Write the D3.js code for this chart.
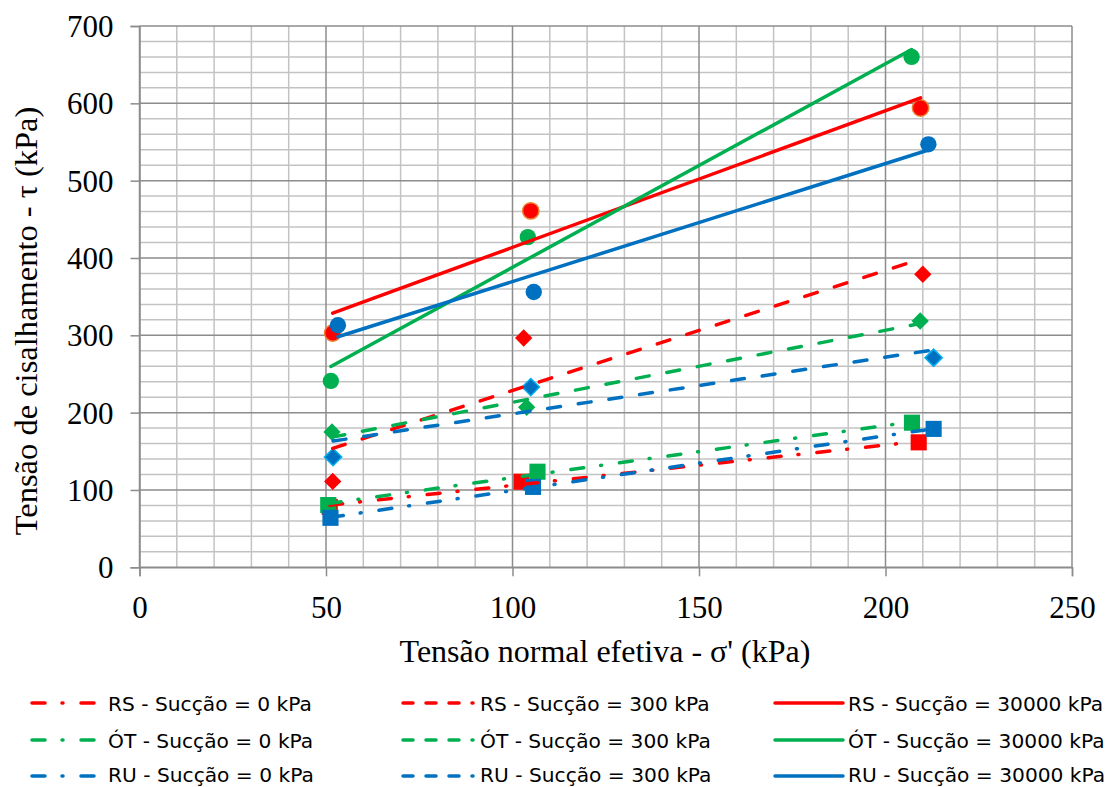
<!DOCTYPE html>
<html><head><meta charset="utf-8">
<script src="https://cdn.jsdelivr.net/npm/d3@7/dist/d3.min.js"></script>
<style>body{margin:0;background:#fff} .serif{font-family:"Liberation Serif","Times New Roman",Times,serif}</style>
</head><body>
<svg id="c" width="1115" height="787"></svg>
<script>
// ---- data ----
const soils = ["RS", "ÓT", "RU"];
const suctions = ["0", "300", "30000"];
const colors = {"RS": "#FF0000", "ÓT": "#00B050", "RU": "#0070C0"};
// x = effective normal stress (kPa), y = shear stress (kPa)
const rs0x = [51.0, 102.4, 208.9],  rs0y = [78, 110.7, 161.6];
const ot0x = [50.6, 106.7, 207.1],  ot0y = [80.5, 123.6, 187];
const ru0x = [51.2, 105.5, 212.9],  ru0y = [64, 104, 179];
const rs300x = [51.8, 103.0, 210.0], rs300y = [111, 296.5, 379];
const ot300x = [51.6, 103.8, 209.3], ot300y = [175, 207, 318.5];
const ru300x = [51.9, 104.9, 212.9], ru300y = [142.5, 233, 271];
const rs30kx = [51.8, 104.9, 209.4], rs30ky = [303, 461, 594];
const ot30kx = [51.3, 104.1, 207.0], ot30ky = [241, 427, 660];
const ru30kx = [53.2, 105.7, 211.5], ru30ky = [313, 356, 547];
const xTicks = [0, 50, 100, 150, 200, 250];
const yTicks = [0, 100, 200, 300, 400, 500, 600, 700];
const xTitle = "Tensão normal efetiva - σ' (kPa)";
const yTitle = "Tensão de cisalhamento - τ (kPa)";

const series = [
  {soil:"RS", suc:"0",     xs:rs0x,   ys:rs0y,   marker:"square"},
  {soil:"ÓT", suc:"0",     xs:ot0x,   ys:ot0y,   marker:"square"},
  {soil:"RU", suc:"0",     xs:ru0x,   ys:ru0y,   marker:"square"},
  {soil:"RS", suc:"300",   xs:rs300x, ys:rs300y, marker:"diamond"},
  {soil:"ÓT", suc:"300",   xs:ot300x, ys:ot300y, marker:"diamond"},
  {soil:"RU", suc:"300",   xs:ru300x, ys:ru300y, marker:"diamond", stroke:"#00B0F0"},
  {soil:"RS", suc:"30000", xs:rs30kx, ys:rs30ky, marker:"circle", stroke:"#ED7D31"},
  {soil:"ÓT", suc:"30000", xs:ot30kx, ys:ot30ky, marker:"circle"},
  {soil:"RU", suc:"30000", xs:ru30kx, ys:ru30ky, marker:"circle"}
];
const dashPlot = {"0":"13 17 1 18", "300":"13 18", "30000":null};
const dashLegend = {"0":"13 17 1 18", "300":"10 13", "30000":null};

// ---- layout ----
const svg = d3.select("#c");
const L = 139.5, R = 1072, T = 26, B = 567.3;
const x = d3.scaleLinear().domain([0, 250]).range([L, R]);
const y = d3.scaleLinear().domain([0, 700]).range([B, T]);

// grid
const g = svg.append("g");
g.selectAll(".vmin").data(d3.range(0, 251, 10).filter(v => v % 50 !== 0)).enter().append("line")
  .attr("x1", d => x(d)).attr("x2", d => x(d)).attr("y1", T).attr("y2", B)
  .attr("stroke", "#c3c3c3").attr("stroke-width", 1.5);
g.selectAll(".hmin").data(d3.range(0, 701, 20).filter(v => v % 100 !== 0)).enter().append("line")
  .attr("y1", d => y(d)).attr("y2", d => y(d)).attr("x1", L).attr("x2", R)
  .attr("stroke", "#c3c3c3").attr("stroke-width", 1.5);
g.selectAll(".vmaj").data(xTicks).enter().append("line")
  .attr("x1", d => x(d)).attr("x2", d => x(d)).attr("y1", T).attr("y2", B)
  .attr("stroke", "#8c8c8c").attr("stroke-width", 1.5);
g.selectAll(".hmaj").data(yTicks).enter().append("line")
  .attr("y1", d => y(d)).attr("y2", d => y(d)).attr("x1", L).attr("x2", R)
  .attr("stroke", "#8c8c8c").attr("stroke-width", 1.5);

// axes
const xAxis = svg.append("g").attr("transform", `translate(0,${B})`)
  .call(d3.axisBottom(x).tickValues(xTicks).tickSize(9).tickPadding(20).tickFormat(d3.format("d")));
const yAxis = svg.append("g").attr("transform", `translate(${L},0)`)
  .call(d3.axisLeft(y).tickValues(yTicks).tickSize(9).tickPadding(17).tickFormat(d3.format("d")));
[xAxis, yAxis].forEach(a => {
  a.attr("font-family", null).attr("font-size", null).classed("serif", true);
  a.select(".domain").attr("stroke", "#8c8c8c").attr("stroke-width", 1.5);
  a.selectAll(".tick line").attr("stroke", "#8c8c8c").attr("stroke-width", 1.5);
  a.selectAll("text").classed("serif", true).style("font-size", "31px").attr("fill", "#000");
});
yAxis.selectAll("text").attr("dy", "0.34em");

svg.append("text").attr("class", "serif").attr("x", 605).attr("y", 662).attr("text-anchor", "middle")
  .style("font-size", "32px").text(xTitle);
svg.append("text").attr("class", "serif").attr("transform", "translate(37,321) rotate(-90)").attr("text-anchor", "middle")
  .style("font-size", "32.5px").text(yTitle);

// markers
const mk = svg.append("g");
series.forEach(s => {
  const pts = s.xs.map((v, i) => [v, s.ys[i]]);
  const col = colors[s.soil];
  const sym = s.marker === "circle" ? d3.symbolCircle : d3.symbolSquare;
  const size = s.marker === "square" ? 260 : s.marker === "diamond" ? 150 : 210;
  mk.selectAll(null).data(pts).enter().append("path")
    .attr("transform", d => `translate(${x(d[0])},${y(d[1])})` + (s.marker === "diamond" ? " rotate(45)" : ""))
    .attr("d", d3.symbol().type(sym).size(size))
    .attr("fill", col)
    .attr("stroke", s.stroke || "none").attr("stroke-width", s.stroke ? 1.5 : 0);
});

// trendlines (least squares, as the spreadsheet draws them)
function fit(xs, ys) {
  const mx = d3.mean(xs), my = d3.mean(ys);
  const sxy = d3.sum(xs, (v, i) => (v - mx) * (ys[i] - my));
  const sxx = d3.sum(xs, v => (v - mx) * (v - mx));
  const b = sxy / sxx;
  return v => my + b * (v - mx);
}
const tl = svg.append("g");
const line = d3.line().x(d => x(d[0])).y(d => y(d[1]));
series.forEach(s => {
  const f = fit(s.xs, s.ys);
  const [x0, x1] = d3.extent(s.xs);
  tl.append("path").attr("d", line([[x0, f(x0)], [x1, f(x1)]]))
    .attr("fill", "none").attr("stroke", colors[s.soil]).attr("stroke-width", 3.5)
    .attr("stroke-linecap", "round")
    .attr("stroke-dasharray", dashPlot[s.suc]);
});

// legend
const lg = svg.append("g");
const colX = [{x0:32, x1:97, tx:108}, {x0:403, x1:473, tx:480}, {x0:775, x1:843, tx:848}];
const rowLine = [703, 740, 776];
const rowBase = [711, 748, 782];
suctions.forEach((suc, ci) => {
  soils.forEach((soil, ri) => {
    const c = colX[ci];
    lg.append("line").attr("x1", c.x0).attr("x2", c.x1).attr("y1", rowLine[ri]).attr("y2", rowLine[ri])
      .attr("stroke", colors[soil]).attr("stroke-width", 3.5).attr("stroke-linecap", "round")
      .attr("stroke-dasharray", dashLegend[suc]);
    lg.append("text").attr("x", c.tx).attr("y", rowBase[ri])
      .style("font-family", "'DejaVu Sans', sans-serif").style("font-size", "20.2px")
      .text(`${soil} - Sucção = ${suc} kPa`);
  });
});
</script>
</body></html>
